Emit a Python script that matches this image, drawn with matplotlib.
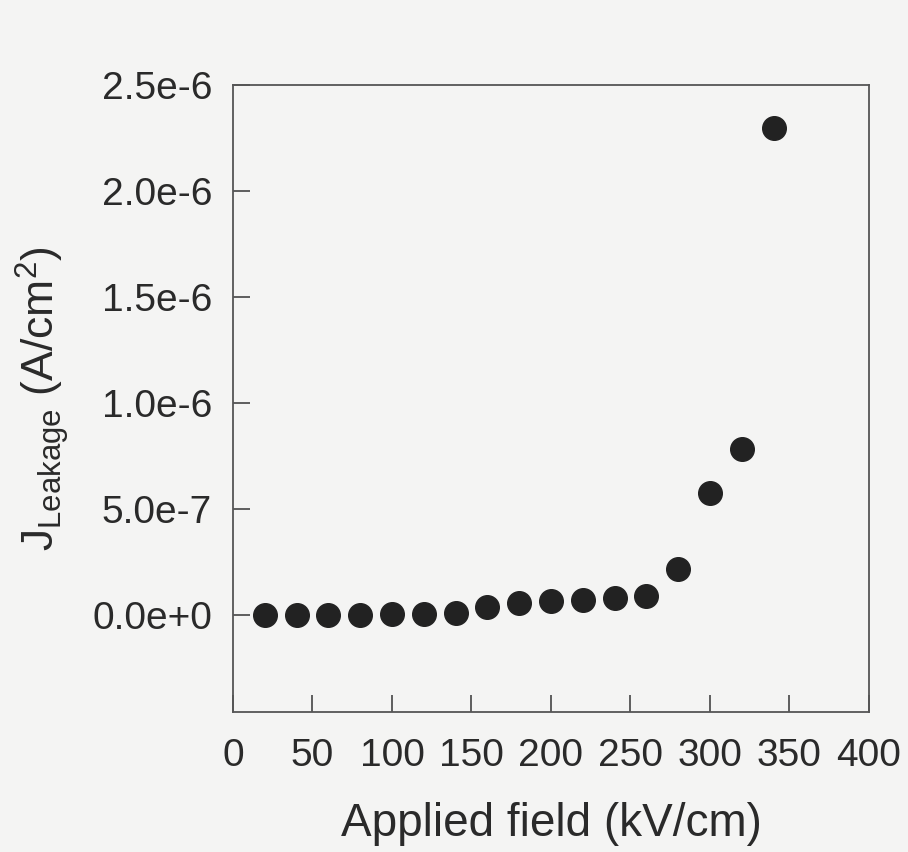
import matplotlib.pyplot as plt

# Applied field (kV/cm) and leakage current density (A/cm^2)
field = [20, 40, 60, 80, 100, 120, 140, 160, 180, 200, 220, 240, 260, 280, 300, 320, 340]
j_leak = [0.0, 0.0, 0.0, 0.001e-6, 0.005e-6, 0.005e-6, 0.01e-6, 0.036e-6, 0.055e-6,
          0.066e-6, 0.072e-6, 0.079e-6, 0.091e-6, 0.217e-6, 0.573e-6, 0.783e-6, 2.296e-6]

x_ticks = [0, 50, 100, 150, 200, 250, 300, 350, 400]
y_ticks = [0.0, 0.5e-6, 1.0e-6, 1.5e-6, 2.0e-6, 2.5e-6]
y_tick_labels = ["0.0e+0", "5.0e-7", "1.0e-6", "1.5e-6", "2.0e-6", "2.5e-6"]

plt.rcParams["font.family"] = ["Liberation Sans", "DejaVu Sans"]
plt.rcParams["mathtext.fontset"] = "custom"
plt.rcParams["mathtext.rm"] = "Liberation Sans"
plt.rcParams["mathtext.it"] = "Liberation Sans"

bg = "#f4f4f3"
fig = plt.figure(figsize=(9.08, 8.52), dpi=100, facecolor=bg)
ax = fig.add_axes([0.2566, 0.1643, 0.7004, 0.7359])
ax.set_facecolor(bg)

ax.plot(field, j_leak, linestyle="none", marker="o", markersize=17,
        color="#222222", markeredgecolor="#222222")

ax.set_xlim(0, 400)
ax.set_ylim(-0.458e-6, 2.5e-6)
ax.set_xticks(x_ticks)
ax.set_yticks(y_ticks)
ax.set_yticklabels(y_tick_labels)

ax.tick_params(axis="both", direction="in", length=12, width=1.2, color="#444444",
               labelsize=28, labelcolor="#2a2a2a")
ax.tick_params(axis="x", pad=19)
ax.tick_params(axis="y", pad=15)
for s in ax.spines.values():
    s.set_color("#555555")
    s.set_linewidth(1.3)

ax.set_xlabel("Applied field (kV/cm)", fontsize=33, color="#2a2a2a", labelpad=20)
ax.set_ylabel(r"J$_{\mathrm{Leakage}}$ (A/cm$^{2}$)", fontsize=32, color="#2a2a2a", labelpad=15)

fig.savefig("out.png", dpi=100, facecolor=bg)
